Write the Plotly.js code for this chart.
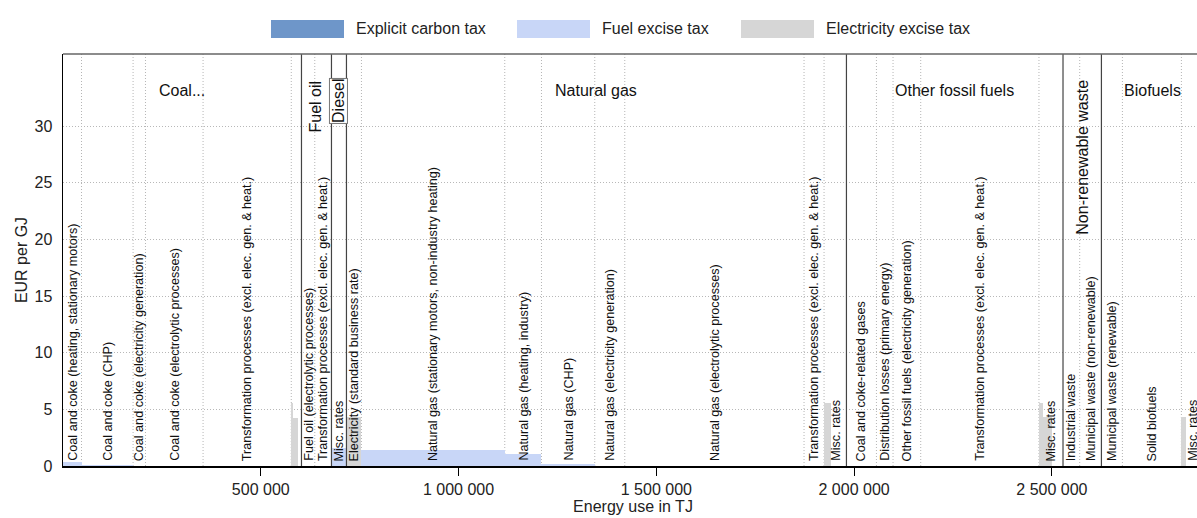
<!DOCTYPE html>
<html><head><meta charset="utf-8">
<script src="https://cdn.plot.ly/plotly-3.0.1.min.js"></script>
<style>html,body{margin:0;padding:0;overflow:hidden;background:#fff}#chart{width:1215px;height:518px}</style>
</head><body><div id="chart"></div>
<script>
// ---------- DATA ----------
const groups = ['Coal...', 'Fuel oil', 'Diesel', 'Natural gas', 'Other fossil fuels', 'Non-renewable waste', 'Biofuels'];
const categories = [
  'Coal and coke (heating, stationary motors)',
  'Coal and coke (CHP)',
  'Coal and coke (electricity generation)',
  'Coal and coke (electrolytic processes)',
  'Transformation processes (excl. elec. gen. & heat.)',
  '',
  'Fuel oil (electrolytic processes)',
  'Transformation processes (excl. elec. gen. & heat.)',
  'Misc. rates',
  'Electricity (standard business rate)',
  'Natural gas (stationary motors, non-industry heating)',
  'Natural gas (heating, industry)',
  'Natural gas (CHP)',
  'Natural gas (electricity generation)',
  'Natural gas (electrolytic processes)',
  'Transformation processes (excl. elec. gen. & heat.)',
  'Misc. rates',
  'Coal and coke-related gases',
  'Distribution losses (primary energy)',
  'Other fossil fuels (electricity generation)',
  'Transformation processes (excl. elec. gen. & heat.)',
  'Misc. rates',
  'Industrial waste',
  'Municipal waste (non-renewable)',
  'Municipal waste (renewable)',
  'Solid biofuels',
  'Misc. rates'
];
const categoryGroup = [0,0,0,0,0,0,1,1,2,3,3,3,3,3,3,3,3,4,4,4,4,4,5,5,6,6,6];
// one entry per bar (tax-rate block)
const barCategory = [0,1,2,3,4,5,5,5,6,7,8,9,10,11,12,13,14,15,16,16,17,18,19,20,21,21,21,22,23,24,25,26,26];
const energyUse = [46800,130400,31300,145600,223000,5100,12100,8600,33600,42200,37900,37900,362300,92800,134700,75900,453200,50600,18700,37900,75800,42000,70000,298900,10200,22000,28600,42200,54900,53100,149100,12600,42000];
const carbonTax = [0,0,0,0,0,0,0,0,0,0,0,0,0,0,0,0,0,0,0,0,0,0,0,0,0,0,0,0,0,0,0,0,0];
const fuelExcise = [0.35,0.08,0,0,0,0,0,0,0,0,1.58,0,1.41,1.03,0.18,0,0,0,0,0,0,0,0,0,0,0,0,0,0,0,0,0,0];
const electricityExcise = [0,0,0,0,0,5.6,4.2,0,0,0,0,4.35,0,0,0,0,0,0,5.55,0,0,0,0,0,5.55,4.3,0,0,0,0,0,4.3,0];
const seriesNames = ['Explicit carbon tax', 'Fuel excise tax', 'Electricity excise tax'];
const xTickVals = [500000, 1000000, 1500000, 2000000, 2500000];
const xTickText = ['500 000', '1 000 000', '1 500 000', '2 000 000', '2 500 000'];
const yTickVals = [0, 5, 10, 15, 20, 25, 30];

// ---------- GEOMETRY ----------
const W = 1215, H = 518, M = {l: 63, r: 12, t: 54, b: 52};
const PW = W - M.l - M.r, PH = H - M.t - M.b;
const px = v => (v - M.l) / PW;
const py = v => (H - M.b - v) / PH;
const FONT = 'Liberation Sans, Arial, sans-serif';
const colors = ['#6e96c9', '#c8d6f7', '#d6d6d6'];

const starts = [], centers = [];
let acc = 0;
energyUse.forEach(w => { starts.push(acc); centers.push(acc + w / 2); acc += w; });
const total = acc;

// category extents
const catStart = categories.map(() => Infinity), catEnd = categories.map(() => -Infinity);
barCategory.forEach((c, i) => {
  catStart[c] = Math.min(catStart[c], starts[i]);
  catEnd[c] = Math.max(catEnd[c], starts[i] + energyUse[i]);
});
const grpStart = groups.map(() => Infinity), grpEnd = groups.map(() => -Infinity);
categories.forEach((n, c) => {
  const g = categoryGroup[c];
  grpStart[g] = Math.min(grpStart[g], catStart[c]);
  grpEnd[g] = Math.max(grpEnd[g], catEnd[c]);
});

const shapes = [], annotations = [];
// boundaries
for (let c = 1; c < categories.length; c++) {
  const solid = categoryGroup[c] !== categoryGroup[c - 1];
  shapes.push({type: 'line', xref: 'x', yref: 'paper', x0: catStart[c], x1: catStart[c], y0: 0, y1: 1,
    layer: solid ? 'above' : 'below',
    line: solid ? {color: '#444', width: 1.2} : {color: '#b5b5b5', width: 1, dash: '1px,2px'}});
}
// top frame
shapes.push({type: 'line', xref: 'paper', yref: 'paper', x0: 0, x1: 1, y0: 1, y1: 1, line: {color: '#666', width: 1.5}});

// category labels
categories.forEach((n, c) => {
  if (!n) return;
  annotations.push({x: (catStart[c] + catEnd[c]) / 2, y: 0, xref: 'x', yref: 'y', text: n, textangle: -90,
    showarrow: false, yanchor: 'bottom', xanchor: 'center', yshift: 3,
    font: {family: FONT, size: 12.6, color: '#111'}});
});
// group labels
groups.forEach((n, g) => {
  const wpx = (grpEnd[g] - grpStart[g]) * PW / total;
  const a = {x: (grpStart[g] + grpEnd[g]) / 2, xref: 'x', yref: 'paper', text: n, showarrow: false,
    font: {family: FONT, size: 16, color: '#111'}};
  if (wpx < 60) {
    a.textangle = -90; a.y = py(78); a.yanchor = 'top'; a.xanchor = 'center';
    if (wpx < 20) { a.bgcolor = '#fff'; a.bordercolor = '#777'; a.borderwidth = 1; a.borderpad = 0; }
  } else {
    a.y = py(90.5); a.yanchor = 'middle'; a.xanchor = 'center';
  }
  annotations.push(a);
});
// legend
const legX = [271, 517, 741];
seriesNames.forEach((n, i) => {
  shapes.push({type: 'rect', xref: 'paper', yref: 'paper', x0: px(legX[i]), x1: px(legX[i] + 73),
    y0: py(38), y1: py(20), fillcolor: colors[i], line: {width: 0}});
  annotations.push({xref: 'paper', yref: 'paper', x: px(legX[i] + 83), y: py(29), text: n, showarrow: false,
    xanchor: 'left', yanchor: 'middle', font: {family: FONT, size: 16, color: '#222'}});
});

const mk = (y, i) => ({type: 'bar', x: centers, y: y, width: energyUse, name: seriesNames[i],
  marker: {color: colors[i], line: {width: 0}}, hoverinfo: 'skip', showlegend: false});
const traces = [mk(carbonTax, 0), mk(fuelExcise, 1), mk(electricityExcise, 2)];

const layout = {
  width: W, height: H, margin: M, barmode: 'stack', showlegend: false,
  paper_bgcolor: '#fff', plot_bgcolor: '#fff',
  font: {family: FONT, size: 16, color: '#222'},
  xaxis: {range: [0, total], tickvals: xTickVals, ticktext: xTickText, ticks: 'outside', ticklen: 8,
    tickcolor: '#000', showgrid: false, zeroline: false, showline: true, linecolor: '#000', linewidth: 1.5,
    tickfont: {size: 16, color: '#222'},
    title: {text: 'Energy use in TJ', font: {size: 16, color: '#222'}, standoff: 1}},
  yaxis: {range: [0, PH / 11.333], tickvals: yTickVals, ticks: '', showgrid: true, gridcolor: '#b8b8b8',
    griddash: '1px,2px', zeroline: false, showline: true, linecolor: '#000', linewidth: 1.5,
    tickfont: {size: 16, color: '#222'}, ticklabelstandoff: 6,
    title: {text: 'EUR per GJ', font: {size: 16, color: '#222'}, standoff: 3}},
  shapes: shapes, annotations: annotations
};
Plotly.newPlot('chart', traces, layout, {displayModeBar: false, staticPlot: true});
</script></body></html>
